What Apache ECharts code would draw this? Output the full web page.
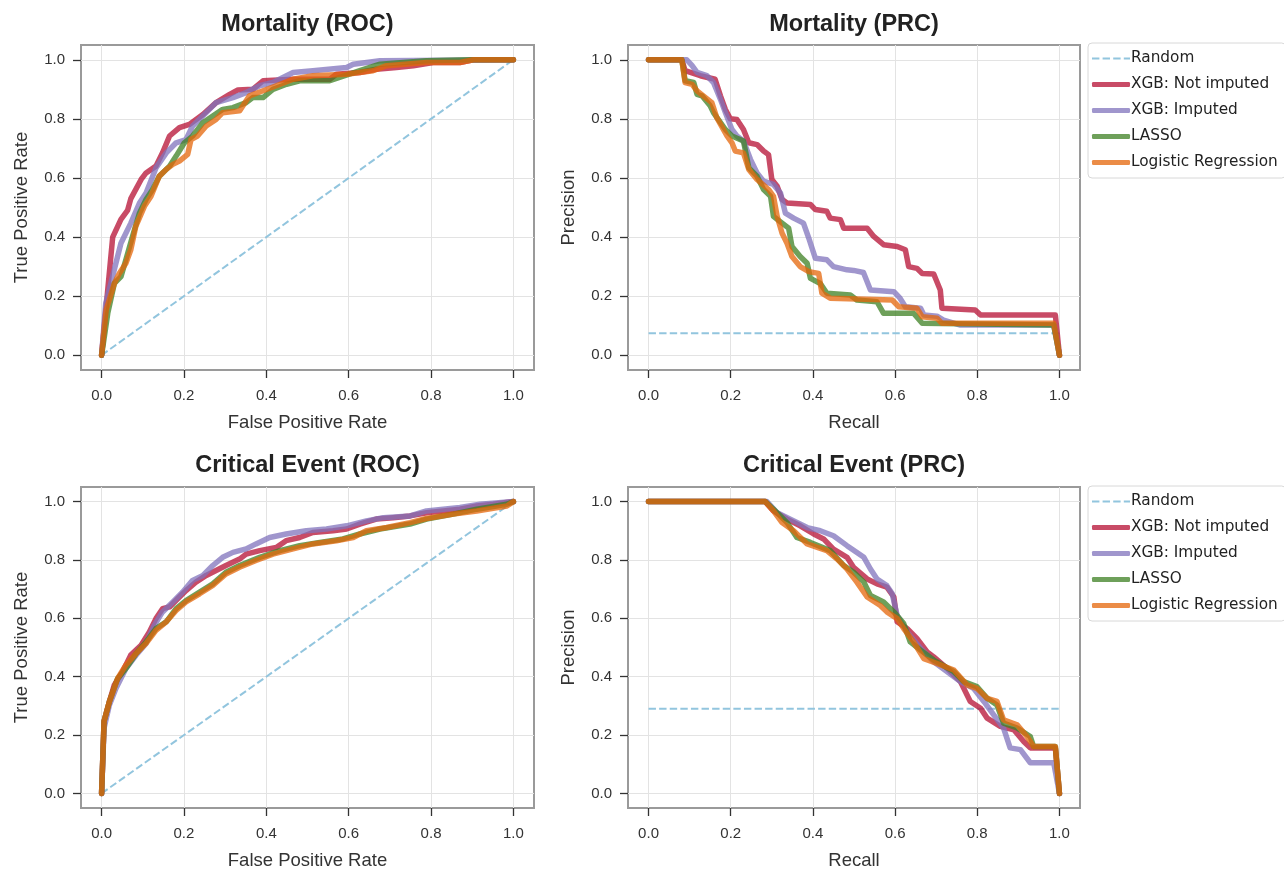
<!DOCTYPE html>
<html>
<head>
<meta charset="utf-8">
<script src="https://cdn.jsdelivr.net/npm/echarts@6/dist/echarts.min.js"></script>
<style>
html,body{margin:0;padding:0;background:#fff;}
#chart{width:1284px;height:871px;}
</style>
</head>
<body>
<div id="chart"></div>
<script>
// ---------- Data ----------
const seriesNames = ['Random', 'XGB: Not imputed', 'XGB: Imputed', 'LASSO', 'Logistic Regression'];
const panelTitles = ['Mortality (ROC)', 'Mortality (PRC)', 'Critical Event (ROC)', 'Critical Event (PRC)'];
const xAxisNames = ['False Positive Rate', 'Recall', 'False Positive Rate', 'Recall'];
const yAxisNames = ['True Positive Rate', 'Precision', 'True Positive Rate', 'Precision'];
const tickValues = [0, 0.2, 0.4, 0.6, 0.8, 1.0];

// Random baselines
const mortRocRandom = [[0, 0], [1, 1]];
const mortPrcRandom = [[0, 0.074], [1, 0.074]];
const critRocRandom = [[0, 0], [1, 1]];
const critPrcRandom = [[0, 0.29], [1, 0.29]];

// Mortality ROC
const mortRocXgbNot = [[0,0],[0.027,0.40],[0.047,0.46],[0.063,0.49],[0.071,0.53],[0.096,0.595],[0.108,0.617],[0.132,0.64],[0.148,0.685],[0.165,0.742],[0.189,0.77],[0.213,0.781],[0.246,0.815],[0.278,0.855],[0.311,0.883],[0.331,0.898],[0.367,0.90],[0.392,0.929],[0.465,0.934],[0.554,0.934],[0.570,0.951],[0.627,0.957],[0.667,0.968],[0.716,0.974],[0.757,0.98],[0.805,0.991],[0.870,0.991],[0.903,1.0],[1,1]];
const mortRocXgbImp = [[0,0],[0.01,0.175],[0.047,0.379],[0.071,0.447],[0.092,0.515],[0.108,0.549],[0.132,0.634],[0.157,0.685],[0.181,0.719],[0.205,0.73],[0.221,0.776],[0.254,0.821],[0.278,0.855],[0.319,0.872],[0.351,0.889],[0.384,0.912],[0.416,0.923],[0.465,0.957],[0.513,0.963],[0.595,0.974],[0.611,0.985],[0.676,0.997],[1,1]];
const mortRocLasso = [[0,0],[0.015,0.142],[0.031,0.243],[0.047,0.266],[0.059,0.323],[0.075,0.402],[0.092,0.481],[0.108,0.527],[0.124,0.561],[0.140,0.606],[0.165,0.640],[0.181,0.674],[0.201,0.719],[0.221,0.742],[0.246,0.787],[0.270,0.810],[0.294,0.832],[0.319,0.838],[0.351,0.855],[0.367,0.872],[0.392,0.872],[0.416,0.90],[0.449,0.917],[0.481,0.929],[0.554,0.929],[0.627,0.963],[0.676,0.985],[0.789,0.997],[0.895,1.0],[1,1]];
const mortRocLogreg = [[0,0],[0.011,0.153],[0.031,0.243],[0.043,0.277],[0.059,0.311],[0.071,0.357],[0.083,0.436],[0.104,0.504],[0.120,0.538],[0.140,0.606],[0.157,0.629],[0.173,0.646],[0.189,0.657],[0.209,0.680],[0.217,0.730],[0.233,0.742],[0.254,0.776],[0.278,0.798],[0.294,0.821],[0.335,0.827],[0.359,0.878],[0.392,0.895],[0.424,0.912],[0.465,0.934],[0.513,0.946],[0.595,0.951],[0.659,0.963],[0.692,0.980],[0.789,0.991],[0.870,0.991],[0.903,1.0],[1,1]];

// Mortality PRC
const mortPrcXgbNot = [[0,1],[0.081,1],[0.089,0.963],[0.126,0.946],[0.162,0.934],[0.175,0.878],[0.187,0.832],[0.199,0.80],[0.215,0.798],[0.231,0.764],[0.244,0.719],[0.264,0.713],[0.280,0.691],[0.292,0.679],[0.300,0.595],[0.313,0.572],[0.325,0.527],[0.337,0.515],[0.394,0.510],[0.406,0.493],[0.434,0.487],[0.442,0.464],[0.467,0.459],[0.475,0.430],[0.532,0.430],[0.548,0.402],[0.572,0.374],[0.605,0.368],[0.625,0.357],[0.633,0.300],[0.653,0.294],[0.666,0.277],[0.694,0.275],[0.710,0.221],[0.714,0.159],[0.795,0.153],[0.808,0.136],[0.990,0.136],[1,0]];
const mortPrcXgbImp = [[0,1],[0.093,1],[0.106,0.98],[0.118,0.957],[0.142,0.946],[0.158,0.923],[0.175,0.866],[0.187,0.821],[0.203,0.764],[0.215,0.742],[0.231,0.725],[0.248,0.663],[0.264,0.617],[0.280,0.589],[0.304,0.578],[0.321,0.549],[0.333,0.481],[0.353,0.464],[0.377,0.447],[0.390,0.396],[0.406,0.328],[0.434,0.323],[0.450,0.300],[0.483,0.289],[0.499,0.287],[0.523,0.280],[0.540,0.221],[0.597,0.215],[0.612,0.193],[0.625,0.164],[0.662,0.159],[0.670,0.136],[0.702,0.132],[0.718,0.119],[0.759,0.102],[0.986,0.102],[1,0]];
const mortPrcLasso = [[0,1],[0.081,1],[0.089,0.929],[0.110,0.923],[0.118,0.883],[0.130,0.878],[0.150,0.844],[0.158,0.821],[0.187,0.764],[0.203,0.742],[0.231,0.725],[0.244,0.634],[0.264,0.606],[0.280,0.561],[0.297,0.538],[0.304,0.470],[0.325,0.447],[0.341,0.430],[0.349,0.368],[0.369,0.334],[0.386,0.311],[0.394,0.260],[0.418,0.243],[0.434,0.210],[0.491,0.204],[0.507,0.187],[0.556,0.181],[0.572,0.142],[0.645,0.142],[0.666,0.108],[0.986,0.102],[1,0]];
const mortPrcLogreg = [[0,1],[0.081,1],[0.089,0.923],[0.106,0.917],[0.118,0.895],[0.154,0.855],[0.166,0.804],[0.191,0.742],[0.203,0.719],[0.211,0.691],[0.231,0.685],[0.244,0.629],[0.264,0.595],[0.292,0.561],[0.304,0.538],[0.313,0.470],[0.325,0.413],[0.337,0.379],[0.349,0.334],[0.369,0.300],[0.390,0.283],[0.414,0.277],[0.422,0.210],[0.442,0.193],[0.593,0.187],[0.609,0.164],[0.653,0.159],[0.666,0.130],[0.702,0.125],[0.714,0.108],[0.986,0.108],[1,0]];

// Critical Event ROC
const critRocXgbNot = [[0,0],[0.006,0.247],[0.019,0.315],[0.031,0.372],[0.051,0.417],[0.071,0.474],[0.096,0.508],[0.116,0.553],[0.132,0.599],[0.148,0.633],[0.165,0.639],[0.189,0.673],[0.205,0.695],[0.229,0.724],[0.254,0.747],[0.278,0.764],[0.302,0.781],[0.335,0.803],[0.351,0.820],[0.384,0.832],[0.424,0.843],[0.448,0.866],[0.481,0.877],[0.513,0.894],[0.562,0.90],[0.595,0.906],[0.627,0.923],[0.667,0.940],[0.708,0.945],[0.749,0.951],[0.789,0.962],[0.830,0.968],[0.870,0.974],[0.911,0.985],[0.951,0.991],[1,1]];
const critRocXgbImp = [[0,0],[0.006,0.224],[0.019,0.303],[0.035,0.360],[0.059,0.428],[0.084,0.474],[0.108,0.514],[0.128,0.576],[0.148,0.622],[0.173,0.656],[0.197,0.690],[0.221,0.730],[0.246,0.747],[0.270,0.781],[0.294,0.809],[0.319,0.826],[0.351,0.838],[0.375,0.855],[0.408,0.877],[0.448,0.889],[0.497,0.90],[0.546,0.906],[0.595,0.917],[0.643,0.934],[0.684,0.945],[0.749,0.951],[0.789,0.968],[0.870,0.980],[0.919,0.991],[1,1]];
const critRocLasso = [[0,0],[0.006,0.247],[0.019,0.315],[0.039,0.394],[0.059,0.428],[0.084,0.480],[0.108,0.519],[0.132,0.565],[0.157,0.588],[0.181,0.633],[0.205,0.661],[0.238,0.690],[0.270,0.718],[0.302,0.758],[0.335,0.781],[0.384,0.809],[0.433,0.832],[0.481,0.849],[0.530,0.860],[0.586,0.872],[0.627,0.889],[0.676,0.906],[0.749,0.923],[0.789,0.940],[0.854,0.957],[0.911,0.974],[0.984,0.991],[1,1]];
const critRocLogreg = [[0,0],[0.006,0.247],[0.019,0.315],[0.039,0.394],[0.059,0.440],[0.084,0.480],[0.108,0.514],[0.132,0.559],[0.157,0.588],[0.181,0.627],[0.205,0.656],[0.238,0.684],[0.270,0.713],[0.302,0.752],[0.335,0.775],[0.375,0.798],[0.416,0.820],[0.465,0.838],[0.513,0.855],[0.570,0.866],[0.611,0.877],[0.643,0.90],[0.692,0.911],[0.749,0.928],[0.789,0.942],[0.854,0.957],[0.911,0.968],[0.984,0.985],[1,1]];

// Critical Event PRC
const critPrcXgbNot = [[0,1],[0.284,1],[0.304,0.968],[0.337,0.940],[0.369,0.917],[0.402,0.889],[0.426,0.872],[0.450,0.837],[0.483,0.809],[0.499,0.775],[0.532,0.735],[0.556,0.718],[0.580,0.707],[0.597,0.673],[0.605,0.588],[0.629,0.565],[0.653,0.531],[0.678,0.485],[0.694,0.468],[0.727,0.428],[0.759,0.383],[0.783,0.315],[0.808,0.292],[0.824,0.258],[0.856,0.230],[0.889,0.218],[0.913,0.178],[0.929,0.156],[0.990,0.156],[1,0]];
const critPrcXgbImp = [[0,1],[0.288,1],[0.312,0.963],[0.345,0.940],[0.386,0.911],[0.418,0.90],[0.450,0.883],[0.483,0.849],[0.524,0.809],[0.540,0.769],[0.556,0.735],[0.580,0.712],[0.593,0.684],[0.605,0.610],[0.629,0.553],[0.662,0.497],[0.694,0.451],[0.727,0.417],[0.759,0.383],[0.791,0.360],[0.816,0.315],[0.840,0.269],[0.864,0.224],[0.880,0.156],[0.905,0.150],[0.929,0.105],[0.986,0.105],[1,0]];
const critPrcLasso = [[0,1],[0.284,1],[0.304,0.974],[0.337,0.928],[0.361,0.877],[0.394,0.860],[0.442,0.832],[0.475,0.781],[0.499,0.758],[0.524,0.724],[0.540,0.678],[0.572,0.656],[0.597,0.622],[0.621,0.582],[0.637,0.519],[0.662,0.491],[0.694,0.457],[0.743,0.417],[0.767,0.383],[0.799,0.366],[0.824,0.326],[0.848,0.303],[0.864,0.241],[0.897,0.224],[0.929,0.195],[0.937,0.161],[0.990,0.161],[1,0]];
const critPrcLogreg = [[0,1],[0.284,1],[0.304,0.968],[0.325,0.928],[0.353,0.90],[0.386,0.855],[0.434,0.832],[0.459,0.803],[0.483,0.769],[0.507,0.724],[0.532,0.673],[0.564,0.644],[0.580,0.622],[0.605,0.599],[0.621,0.565],[0.645,0.519],[0.670,0.462],[0.702,0.445],[0.743,0.423],[0.775,0.372],[0.799,0.360],[0.824,0.326],[0.848,0.315],[0.864,0.252],[0.897,0.235],[0.921,0.195],[0.937,0.161],[0.990,0.161],[1,0]];

const panelData = [
  [mortRocRandom, mortRocXgbNot, mortRocXgbImp, mortRocLasso, mortRocLogreg],
  [mortPrcRandom, mortPrcXgbNot, mortPrcXgbImp, mortPrcLasso, mortPrcLogreg],
  [critRocRandom, critRocXgbNot, critRocXgbImp, critRocLasso, critRocLogreg],
  [critPrcRandom, critPrcXgbNot, critPrcXgbImp, critPrcLasso, critPrcLogreg]
];

// ---------- Styling ----------
const colors = ['#92c5de', '#b60f33', '#8073bc', '#3e8023', '#e4660a'];
const lineAlpha = 0.75;
const grids = [
  {left: 81, top: 45, width: 453, height: 325},
  {left: 628, top: 45, width: 452, height: 325},
  {left: 81, top: 487, width: 453, height: 323},
  {left: 628, top: 487, width: 452, height: 323}
];
const tickFont = 'Liberation Sans, Arial, sans-serif';

const chart = echarts.init(document.getElementById('chart'), null, {renderer: 'canvas'});

const xAxes = [], yAxes = [], series = [], graphics = [];
grids.forEach((g, i) => {
  const common = {
    gridIndex: i, type: 'value', min: -0.05, max: 1.05,
    axisLine: {show: false, onZero: false},
    axisTick: {show: true, inside: false, length: 8, customValues: tickValues, lineStyle: {color: '#333', width: 1.3}},
    axisLabel: {customValues: tickValues, formatter: v => v.toFixed(1), color: '#333', fontSize: 15, fontFamily: tickFont},
    splitLine: {show: true, lineStyle: {color: '#e3e3e3', width: 1}},
    nameLocation: 'middle',
    nameTextStyle: {fontSize: 18.5, color: '#333', fontFamily: tickFont}
  };
  xAxes.push(Object.assign({}, common, {
    position: 'bottom',
    axisLabel: Object.assign({}, common.axisLabel, {margin: 18}),
    name: xAxisNames[i], nameGap: 43
  }));
  yAxes.push(Object.assign({}, common, {
    position: 'left',
    axisLabel: Object.assign({}, common.axisLabel, {margin: 16}),
    name: yAxisNames[i], nameGap: 50
  }));
  graphics.push({
    type: 'text', x: g.left + g.width / 2, y: (i < 2 ? 25 : 466),
    style: {text: panelTitles[i], font: 'bold 23.5px Liberation Sans, Arial, sans-serif', fill: '#222', textAlign: 'center', textVerticalAlign: 'middle'}
  });
  panelData[i].forEach((d, k) => {
    const isRandom = k === 0;
    series.push({
      name: seriesNames[k], type: 'line', xAxisIndex: i, yAxisIndex: i,
      data: d, showSymbol: false, symbol: 'none', animation: false,
      lineStyle: isRandom
        ? {color: colors[k], width: 2, type: [7.4, 3.2], opacity: 1}
        : {color: colors[k], width: 5.5, opacity: lineAlpha, cap: 'round', join: 'round'},
      itemStyle: {color: colors[k], opacity: isRandom ? 1 : lineAlpha},
      z: 2 + k
    });
  });
});

const dashIcon = 'path://M0,0h7.4v2h-7.4z M10.6,0h7.4v2h-7.4z M21.2,0h7.4v2h-7.4z M31.8,0h6.2v2h-6.2z';
const legendData = seriesNames.map((n, k) => ({name: n, icon: k === 0 ? dashIcon : 'roundRect'}));

const legendBase = {
  orient: 'vertical', left: 1088, data: legendData,
  itemWidth: 38, itemHeight: 5, itemGap: 11,
  padding: [8, 8, 8, 4], borderColor: '#d8d8d8', borderWidth: 1, borderRadius: 4,
  backgroundColor: '#fff', selectedMode: false,
  textStyle: {fontFamily: 'DejaVu Sans', fontSize: 15.3, color: '#222', padding: [0, 0, 0, -4]}
};

chart.setOption({
  backgroundColor: '#fff',
  animation: false,
  grid: grids.map(g => Object.assign({}, g, {show: true, borderColor: '#9a9a9a', borderWidth: 2, backgroundColor: 'transparent', containLabel: false})),
  xAxis: xAxes,
  yAxis: yAxes,
  series: series,
  legend: [
    Object.assign({}, legendBase, {top: 43}),
    Object.assign({}, legendBase, {top: 486})
  ],
  graphic: graphics
});
</script>
</body>
</html>
